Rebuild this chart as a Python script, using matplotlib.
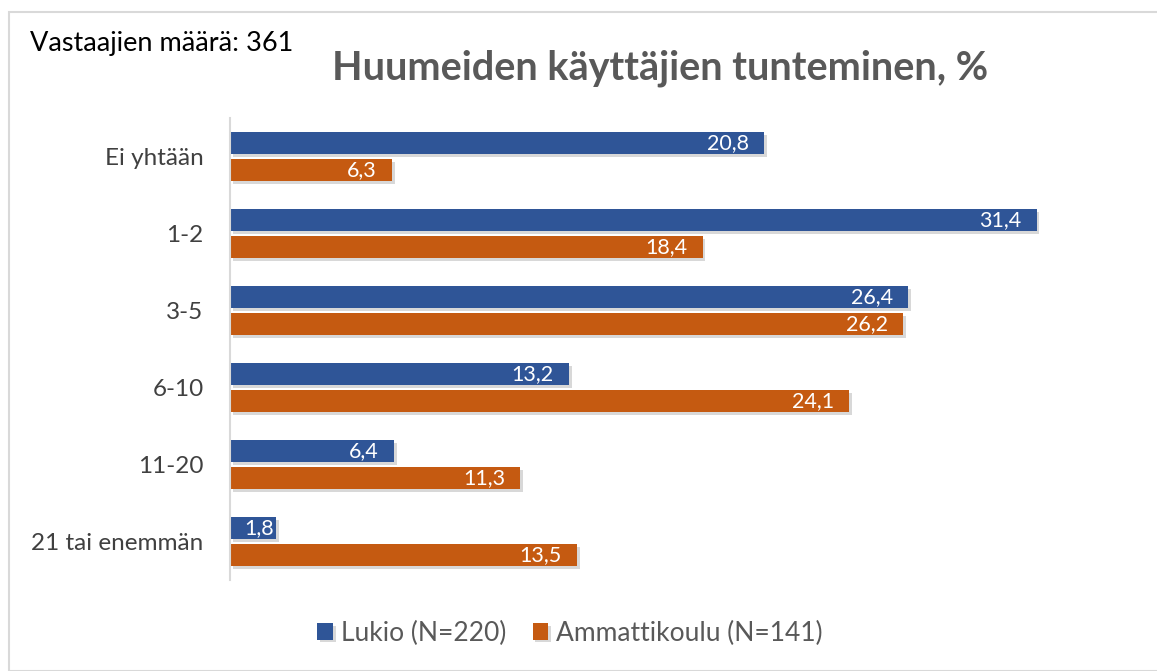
import matplotlib.pyplot as plt
import matplotlib.patheffects as pe
from matplotlib.patches import Rectangle
import numpy as np

categories = ["Ei yhtään", "1-2", "3-5", "6-10", "11-20", "21 tai enemmän"]
lukio = [20.8, 31.4, 26.4, 13.2, 6.4, 1.8]
ammatti = [6.3, 18.4, 26.2, 24.1, 11.3, 13.5]
series_names = ["Lukio (N=220)", "Ammattikoulu (N=141)"]

blue = "#2F5597"
orange = "#C55A11"
plt.rcParams['font.family'] = ['Lato', 'DejaVu Sans']

fig = plt.figure(figsize=(11.57, 6.71), dpi=100)
W, H = 1157, 671
ax = fig.add_axes([230 / W, 1 - 580 / H, 899 / W, 462 / H])

y = np.arange(len(categories))
h = 0.285
off = 0.175
shadow = [pe.SimplePatchShadow(offset=(2, -2), alpha=0.3, shadow_rgbFace='gray'), pe.Normal()]
b1 = ax.barh(y - off, lukio, height=h, color=blue, label=series_names[0])
b2 = ax.barh(y + off, ammatti, height=h, color=orange, label=series_names[1])
for bars, vals, dy in ((b1, lukio, -off), (b2, ammatti, off)):
    for p in bars:
        p.set_path_effects(shadow)
    for i, v in enumerate(vals):
        # short bars: keep the label inside, squeezed against the end
        pad = -11 if v > 3 else -2
        ax.annotate(f"{v:.1f}".replace(".", ","), (v, i + dy), xytext=(pad, 0),
                    textcoords='offset points', ha='right', va='center',
                    color='white', fontsize=15.5)

ax.set_xlim(0, 35)
ax.set_ylim(len(categories) - 0.5, -0.5)
ax.set_yticks(y)
ax.set_yticklabels(categories, fontsize=17.5, color='#404040')
ax.set_xticks([])
ax.tick_params(axis='y', length=0, pad=19)
for s in ['top', 'right', 'bottom']:
    ax.spines[s].set_visible(False)
ax.spines['left'].set_color('#D9D9D9')
ax.spines['left'].set_linewidth(1.5)

fig.text(660 / W, 1 - 68 / H, "Huumeiden käyttäjien tunteminen, %", ha='center', va='center',
         fontsize=28.5, fontweight='bold', color='#595959')
fig.text(30 / W, 1 - 43 / H, "Vastaajien määrä: 361", ha='left', va='center',
         fontsize=19.5, color='black')

fig.legend(handles=[b1, b2], loc='center', bbox_to_anchor=(570 / W, 1 - 633 / H),
           ncol=2, frameon=False, fontsize=19, handlelength=0.6, handleheight=0.6,
           handletextpad=0.3, columnspacing=1.0, labelcolor='#595959')

fig.patches.append(Rectangle((9 / W, 0), 1.1, 1 - 12 / H, transform=fig.transFigure,
                             fill=False, edgecolor='#D9D9D9', linewidth=1.5))
fig.savefig("out.png", dpi=100)
